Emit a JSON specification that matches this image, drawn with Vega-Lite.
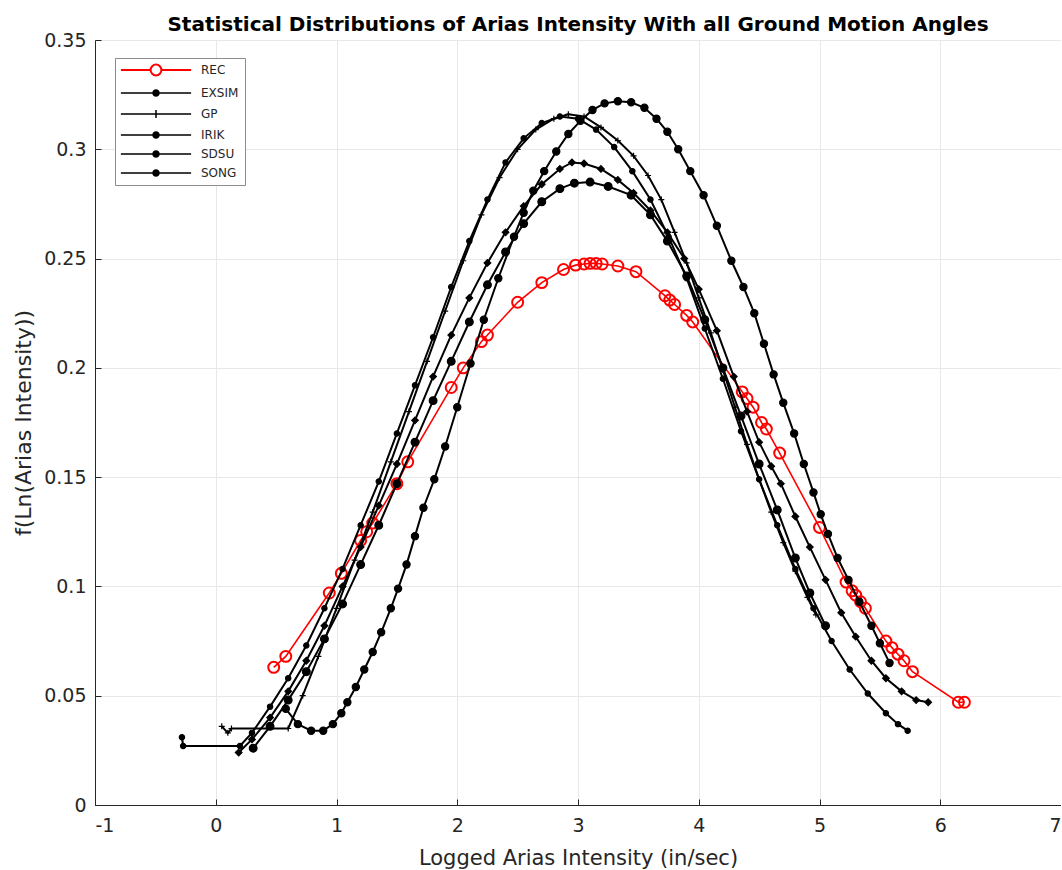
{
  "$schema": "https://vega.github.io/schema/vega-lite/v6.json",
  "width": 966,
  "height": 765,
  "autosize": {"type": "none"},
  "padding": {"left": 95, "top": 40, "right": 0, "bottom": 65},
  "background": "white",
  "title": {"text": "Statistical Distributions of Arias Intensity With all Ground Motion Angles", "font": "DejaVu Sans", "fontSize": 20, "fontWeight": "bold", "color": "black", "offset": -4, "anchor": "middle"},
  "config": {
    "view": {"stroke": "#bdbdbd", "strokeWidth": 1},
    "axis": {"domainColor": "#262626", "tickColor": "#262626", "labelColor": "#262626", "titleColor": "#262626", "gridColor": "#e8e8e8", "labelFont": "DejaVu Sans", "titleFont": "DejaVu Sans", "labelFontSize": 19, "titleFontSize": 21, "titleFontWeight": "normal", "tickSize": -6}
  },
  "data": {"values": [
    {"m":"REC","x":0.48,"y":0.063},{"m":"REC","x":0.58,"y":0.068},{"m":"REC","x":0.94,"y":0.097},{"m":"REC","x":1.04,"y":0.106},{"m":"REC","x":1.2,"y":0.121},{"m":"REC","x":1.25,"y":0.125},{"m":"REC","x":1.3,"y":0.129},{"m":"REC","x":1.5,"y":0.147},{"m":"REC","x":1.59,"y":0.157},{"m":"REC","x":1.95,"y":0.191},{"m":"REC","x":2.05,"y":0.2},{"m":"REC","x":2.2,"y":0.212},{"m":"REC","x":2.25,"y":0.215},{"m":"REC","x":2.5,"y":0.23},{"m":"REC","x":2.7,"y":0.239},{"m":"REC","x":2.88,"y":0.245},{"m":"REC","x":2.98,"y":0.247},{"m":"REC","x":3.05,"y":0.2475},{"m":"REC","x":3.1,"y":0.2478},{"m":"REC","x":3.15,"y":0.2478},{"m":"REC","x":3.2,"y":0.2475},{"m":"REC","x":3.33,"y":0.2466},{"m":"REC","x":3.48,"y":0.244},{"m":"REC","x":3.72,"y":0.233},{"m":"REC","x":3.76,"y":0.231},{"m":"REC","x":3.8,"y":0.229},{"m":"REC","x":3.9,"y":0.224},{"m":"REC","x":3.95,"y":0.221},{"m":"REC","x":4.36,"y":0.189},{"m":"REC","x":4.4,"y":0.186},{"m":"REC","x":4.45,"y":0.182},{"m":"REC","x":4.52,"y":0.175},{"m":"REC","x":4.56,"y":0.172},{"m":"REC","x":4.67,"y":0.161},{"m":"REC","x":5.0,"y":0.127},{"m":"REC","x":5.22,"y":0.102},{"m":"REC","x":5.27,"y":0.098},{"m":"REC","x":5.3,"y":0.096},{"m":"REC","x":5.34,"y":0.093},{"m":"REC","x":5.38,"y":0.09},{"m":"REC","x":5.55,"y":0.075},{"m":"REC","x":5.6,"y":0.072},{"m":"REC","x":5.65,"y":0.069},{"m":"REC","x":5.7,"y":0.066},{"m":"REC","x":5.77,"y":0.061},{"m":"REC","x":6.15,"y":0.047},{"m":"REC","x":6.2,"y":0.047},

    {"m":"EXSIM","x":-0.28,"y":0.031},{"m":"EXSIM","x":-0.27,"y":0.027},{"m":"EXSIM","x":0.2,"y":0.027},{"m":"EXSIM","x":0.3,"y":0.033},{"m":"EXSIM","x":0.45,"y":0.045},{"m":"EXSIM","x":0.6,"y":0.058},{"m":"EXSIM","x":0.75,"y":0.073},{"m":"EXSIM","x":0.9,"y":0.09},{"m":"EXSIM","x":1.05,"y":0.108},{"m":"EXSIM","x":1.2,"y":0.128},{"m":"EXSIM","x":1.35,"y":0.148},{"m":"EXSIM","x":1.5,"y":0.17},{"m":"EXSIM","x":1.65,"y":0.192},{"m":"EXSIM","x":1.8,"y":0.214},{"m":"EXSIM","x":1.95,"y":0.237},{"m":"EXSIM","x":2.1,"y":0.258},{"m":"EXSIM","x":2.25,"y":0.277},{"m":"EXSIM","x":2.4,"y":0.294},{"m":"EXSIM","x":2.55,"y":0.305},{"m":"EXSIM","x":2.7,"y":0.312},{"m":"EXSIM","x":2.85,"y":0.315},{"m":"EXSIM","x":3.0,"y":0.314},{"m":"EXSIM","x":3.15,"y":0.309},{"m":"EXSIM","x":3.3,"y":0.301},{"m":"EXSIM","x":3.45,"y":0.29},{"m":"EXSIM","x":3.6,"y":0.277},{"m":"EXSIM","x":3.75,"y":0.26},{"m":"EXSIM","x":3.9,"y":0.241},{"m":"EXSIM","x":4.05,"y":0.218},{"m":"EXSIM","x":4.2,"y":0.195},{"m":"EXSIM","x":4.35,"y":0.171},{"m":"EXSIM","x":4.5,"y":0.149},{"m":"EXSIM","x":4.65,"y":0.128},{"m":"EXSIM","x":4.8,"y":0.108},{"m":"EXSIM","x":4.95,"y":0.09},{"m":"EXSIM","x":5.1,"y":0.075},{"m":"EXSIM","x":5.25,"y":0.062},{"m":"EXSIM","x":5.4,"y":0.051},{"m":"EXSIM","x":5.55,"y":0.042},{"m":"EXSIM","x":5.65,"y":0.037},{"m":"EXSIM","x":5.73,"y":0.034},

    {"m":"GP","x":0.05,"y":0.036},{"m":"GP","x":0.1,"y":0.033},{"m":"GP","x":0.13,"y":0.035},{"m":"GP","x":0.6,"y":0.035},{"m":"GP","x":0.72,"y":0.05},{"m":"GP","x":0.85,"y":0.068},{"m":"GP","x":1.0,"y":0.09},{"m":"GP","x":1.15,"y":0.112},{"m":"GP","x":1.3,"y":0.134},{"m":"GP","x":1.45,"y":0.157},{"m":"GP","x":1.6,"y":0.18},{"m":"GP","x":1.75,"y":0.203},{"m":"GP","x":1.9,"y":0.226},{"m":"GP","x":2.05,"y":0.249},{"m":"GP","x":2.2,"y":0.27},{"m":"GP","x":2.35,"y":0.287},{"m":"GP","x":2.5,"y":0.3},{"m":"GP","x":2.65,"y":0.309},{"m":"GP","x":2.8,"y":0.314},{"m":"GP","x":2.92,"y":0.316},{"m":"GP","x":3.05,"y":0.315},{"m":"GP","x":3.19,"y":0.31},{"m":"GP","x":3.33,"y":0.304},{"m":"GP","x":3.46,"y":0.297},{"m":"GP","x":3.58,"y":0.288},{"m":"GP","x":3.69,"y":0.277},{"m":"GP","x":3.8,"y":0.262},{"m":"GP","x":3.9,"y":0.248},{"m":"GP","x":4.0,"y":0.232},{"m":"GP","x":4.1,"y":0.216},{"m":"GP","x":4.2,"y":0.199},{"m":"GP","x":4.3,"y":0.182},{"m":"GP","x":4.4,"y":0.165},{"m":"GP","x":4.5,"y":0.149},{"m":"GP","x":4.6,"y":0.134},{"m":"GP","x":4.7,"y":0.12},{"m":"GP","x":4.8,"y":0.107},{"m":"GP","x":4.9,"y":0.095},{"m":"GP","x":4.97,"y":0.087},

    {"m":"IRIK","x":0.19,"y":0.024},{"m":"IRIK","x":0.3,"y":0.03},{"m":"IRIK","x":0.45,"y":0.04},{"m":"IRIK","x":0.6,"y":0.052},{"m":"IRIK","x":0.75,"y":0.066},{"m":"IRIK","x":0.9,"y":0.082},{"m":"IRIK","x":1.05,"y":0.1},{"m":"IRIK","x":1.2,"y":0.118},{"m":"IRIK","x":1.35,"y":0.137},{"m":"IRIK","x":1.5,"y":0.156},{"m":"IRIK","x":1.65,"y":0.176},{"m":"IRIK","x":1.8,"y":0.196},{"m":"IRIK","x":1.95,"y":0.215},{"m":"IRIK","x":2.1,"y":0.232},{"m":"IRIK","x":2.25,"y":0.248},{"m":"IRIK","x":2.4,"y":0.262},{"m":"IRIK","x":2.55,"y":0.274},{"m":"IRIK","x":2.7,"y":0.284},{"m":"IRIK","x":2.85,"y":0.291},{"m":"IRIK","x":2.95,"y":0.294},{"m":"IRIK","x":3.05,"y":0.2935},{"m":"IRIK","x":3.19,"y":0.291},{"m":"IRIK","x":3.33,"y":0.286},{"m":"IRIK","x":3.46,"y":0.28},{"m":"IRIK","x":3.6,"y":0.272},{"m":"IRIK","x":3.74,"y":0.262},{"m":"IRIK","x":3.88,"y":0.25},{"m":"IRIK","x":4.0,"y":0.236},{"m":"IRIK","x":4.15,"y":0.217},{"m":"IRIK","x":4.29,"y":0.196},{"m":"IRIK","x":4.4,"y":0.18},{"m":"IRIK","x":4.5,"y":0.166},{"m":"IRIK","x":4.6,"y":0.155},{"m":"IRIK","x":4.68,"y":0.147},{"m":"IRIK","x":4.8,"y":0.132},{"m":"IRIK","x":4.92,"y":0.118},{"m":"IRIK","x":5.05,"y":0.103},{"m":"IRIK","x":5.18,"y":0.088},{"m":"IRIK","x":5.3,"y":0.077},{"m":"IRIK","x":5.43,"y":0.066},{"m":"IRIK","x":5.55,"y":0.058},{"m":"IRIK","x":5.68,"y":0.052},{"m":"IRIK","x":5.8,"y":0.048},{"m":"IRIK","x":5.9,"y":0.047},

    {"m":"SDSU","x":0.58,"y":0.044},{"m":"SDSU","x":0.68,"y":0.037},{"m":"SDSU","x":0.79,"y":0.034},{"m":"SDSU","x":0.89,"y":0.034},{"m":"SDSU","x":0.97,"y":0.037},{"m":"SDSU","x":1.04,"y":0.042},{"m":"SDSU","x":1.09,"y":0.047},{"m":"SDSU","x":1.16,"y":0.054},{"m":"SDSU","x":1.23,"y":0.062},{"m":"SDSU","x":1.3,"y":0.07},{"m":"SDSU","x":1.37,"y":0.079},{"m":"SDSU","x":1.45,"y":0.09},{"m":"SDSU","x":1.51,"y":0.099},{"m":"SDSU","x":1.58,"y":0.11},{"m":"SDSU","x":1.65,"y":0.123},{"m":"SDSU","x":1.72,"y":0.136},{"m":"SDSU","x":1.81,"y":0.149},{"m":"SDSU","x":1.9,"y":0.164},{"m":"SDSU","x":2.0,"y":0.182},{"m":"SDSU","x":2.11,"y":0.202},{"m":"SDSU","x":2.22,"y":0.222},{"m":"SDSU","x":2.34,"y":0.241},{"m":"SDSU","x":2.47,"y":0.26},{"m":"SDSU","x":2.55,"y":0.271},{"m":"SDSU","x":2.63,"y":0.281},{"m":"SDSU","x":2.72,"y":0.29},{"m":"SDSU","x":2.82,"y":0.299},{"m":"SDSU","x":2.92,"y":0.307},{"m":"SDSU","x":3.02,"y":0.313},{"m":"SDSU","x":3.12,"y":0.318},{"m":"SDSU","x":3.22,"y":0.321},{"m":"SDSU","x":3.33,"y":0.322},{"m":"SDSU","x":3.44,"y":0.3215},{"m":"SDSU","x":3.55,"y":0.319},{"m":"SDSU","x":3.65,"y":0.314},{"m":"SDSU","x":3.74,"y":0.308},{"m":"SDSU","x":3.83,"y":0.3},{"m":"SDSU","x":3.93,"y":0.29},{"m":"SDSU","x":4.04,"y":0.279},{"m":"SDSU","x":4.15,"y":0.265},{"m":"SDSU","x":4.27,"y":0.249},{"m":"SDSU","x":4.37,"y":0.237},{"m":"SDSU","x":4.46,"y":0.225},{"m":"SDSU","x":4.54,"y":0.211},{"m":"SDSU","x":4.62,"y":0.197},{"m":"SDSU","x":4.7,"y":0.184},{"m":"SDSU","x":4.79,"y":0.17},{"m":"SDSU","x":4.87,"y":0.156},{"m":"SDSU","x":4.95,"y":0.143},{"m":"SDSU","x":5.01,"y":0.133},{"m":"SDSU","x":5.07,"y":0.124},{"m":"SDSU","x":5.15,"y":0.113},{"m":"SDSU","x":5.24,"y":0.103},{"m":"SDSU","x":5.33,"y":0.093},{"m":"SDSU","x":5.43,"y":0.082},{"m":"SDSU","x":5.5,"y":0.074},{"m":"SDSU","x":5.58,"y":0.065},

    {"m":"SONG","x":0.31,"y":0.026},{"m":"SONG","x":0.45,"y":0.036},{"m":"SONG","x":0.6,"y":0.048},{"m":"SONG","x":0.75,"y":0.061},{"m":"SONG","x":0.9,"y":0.076},{"m":"SONG","x":1.05,"y":0.092},{"m":"SONG","x":1.2,"y":0.11},{"m":"SONG","x":1.35,"y":0.128},{"m":"SONG","x":1.5,"y":0.147},{"m":"SONG","x":1.65,"y":0.166},{"m":"SONG","x":1.8,"y":0.185},{"m":"SONG","x":1.95,"y":0.203},{"m":"SONG","x":2.1,"y":0.221},{"m":"SONG","x":2.25,"y":0.238},{"m":"SONG","x":2.4,"y":0.253},{"m":"SONG","x":2.55,"y":0.266},{"m":"SONG","x":2.7,"y":0.276},{"m":"SONG","x":2.85,"y":0.282},{"m":"SONG","x":2.97,"y":0.2845},{"m":"SONG","x":3.1,"y":0.285},{"m":"SONG","x":3.25,"y":0.283},{"m":"SONG","x":3.44,"y":0.279},{"m":"SONG","x":3.6,"y":0.27},{"m":"SONG","x":3.74,"y":0.258},{"m":"SONG","x":3.9,"y":0.242},{"m":"SONG","x":4.05,"y":0.222},{"m":"SONG","x":4.2,"y":0.2},{"m":"SONG","x":4.35,"y":0.178},{"m":"SONG","x":4.5,"y":0.156},{"m":"SONG","x":4.65,"y":0.135},{"m":"SONG","x":4.8,"y":0.113},{"m":"SONG","x":4.92,"y":0.097},{"m":"SONG","x":5.05,"y":0.082}
  ]},
  "encoding": {
    "x": {"field": "x", "type": "quantitative", "scale": {"domain": [-1, 7], "nice": false, "zero": false},
      "axis": {"title": "Logged Arias Intensity (in/sec)", "values": [-1, 0, 1, 2, 3, 4, 5, 6, 7], "labelExpr": "toString(datum.value)", "grid": true, "labelPadding": 17, "titlePadding": 12}},
    "y": {"field": "y", "type": "quantitative", "scale": {"domain": [0, 0.35], "nice": false, "zero": false},
      "axis": {"title": "f(Ln(Arias Intensity))", "titleFontSize": 22, "values": [0, 0.05, 0.1, 0.15, 0.2, 0.25, 0.3, 0.35], "labelExpr": "toString(datum.value)", "grid": true, "labelPadding": 15, "titlePadding": 8}},
    "order": {"value": null}
  },
  "layer": [
    {
      "transform": [{"filter": "datum.m === 'REC'"}],
      "mark": {"type": "line", "strokeWidth": 1.6},
      "encoding": {
        "color": {"field": "m", "type": "nominal",
          "scale": {"domain": ["REC", "EXSIM", "GP", "IRIK", "SDSU", "SONG"], "range": ["#ff0000", "#000000", "#000000", "#000000", "#000000", "#000000"]},
          "legend": {"orient": "none", "legendX": 20, "legendY": 18, "title": null, "symbolSize": 324, "symbolOffset": 29, "labelOffset": 39, "padding": 6, "rowPadding": 7, "fillColor": "white", "strokeColor": "#8c8c8c", "labelFont": "DejaVu Sans", "labelFontSize": 12, "labelColor": "#262626", "symbolStrokeWidth": 1.5,
            "encode": {"symbols": {"update": {
              "shape": {"signal": "datum.value === 'GP' ? 'M-3.9,0L3.9,0M0,-0.45L0,0.45' : datum.value === 'REC' ? 'M-3.9,0L-0.6,0M0.6,0L3.9,0M0.6,0A0.6,0.6 0 1,1 -0.6,0A0.6,0.6 0 1,1 0.6,0Z' : 'M-3.9,0L3.9,0M0.33,0A0.33,0.33 0 1,1 -0.33,0A0.33,0.33 0 1,1 0.33,0Z'"},
              "fill": {"signal": "datum.value === 'REC' ? 'transparent' : 'black'"},
              "stroke": {"signal": "datum.value === 'REC' ? '#ff0000' : 'black'"},
              "strokeWidth": {"signal": "datum.value === 'REC' ? 2 : 1.5"}
            }}}
          }}
      }
    },
    {
      "transform": [{"filter": "datum.m === 'REC'"}],
      "mark": {"type": "point", "shape": "circle", "filled": false, "color": "#ff0000", "size": 120, "strokeWidth": 2, "opacity": 1}
    },
    {
      "transform": [{"filter": "datum.m !== 'REC'"}],
      "mark": {"type": "line", "strokeWidth": 2},
      "encoding": {"color": {"field": "m", "type": "nominal"}}
    },
    {
      "transform": [{"filter": "datum.m !== 'REC'"}],
      "mark": {"type": "point", "filled": true, "fill": "#000000", "stroke": "#000000", "strokeWidth": 1.2, "opacity": 1},
      "encoding": {
        "shape": {"field": "m", "type": "nominal", "scale": {"domain": ["EXSIM", "GP", "IRIK", "SDSU", "SONG"], "range": ["circle", "M-1,0L1,0M0,-1L0,1", "diamond", "circle", "circle"]}, "legend": null},
        "size": {"field": "m", "type": "nominal", "scale": {"domain": ["EXSIM", "GP", "IRIK", "SDSU", "SONG"], "range": [28, 60, 45, 36, 20]}, "legend": null}
      }
    }
  ]
}
